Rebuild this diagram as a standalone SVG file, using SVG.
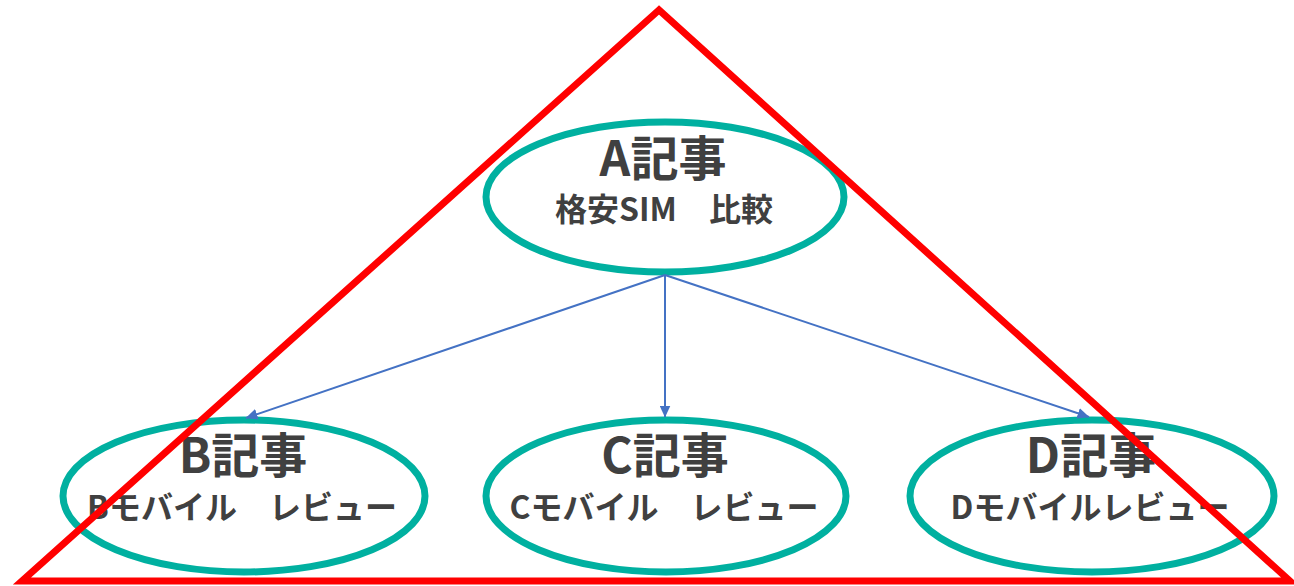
<svg xmlns="http://www.w3.org/2000/svg" width="1294" height="586" viewBox="0 0 1294 586">
<style>
.node ellipse{fill:#ffffff;stroke:#00B0A0;stroke-width:7}
.t1{font-family:"Noto Sans CJK JP","Noto Sans",sans-serif;font-weight:bold;font-size:48px;fill:#404040;text-anchor:middle}
.t2{font-family:"Noto Sans CJK JP","Noto Sans",sans-serif;font-weight:bold;font-size:32px;fill:#404040;text-anchor:middle}
.conn line{stroke:#4472C4;stroke-width:2;marker-end:url(#ah)}
</style>
<defs>
<marker id="ah" markerWidth="12" markerHeight="11" refX="11.5" refY="5.5" orient="auto" markerUnits="userSpaceOnUse" viewBox="0 0 12 11">
<path d="M0,0 L12,5.5 L0,11 Z" fill="#4472C4"/>
</marker>
</defs>
<rect width="1294" height="586" fill="#ffffff"/>
<g id="nodeA" class="node">
<ellipse cx="665" cy="197" rx="179" ry="75"/>
<text class="t1" x="663" y="176">A記事</text>
<text class="t2" x="664" y="221">格安SIM　比較</text>
</g>
<g id="nodeB" class="node">
<ellipse cx="244" cy="496" rx="181" ry="76"/>
<text class="t1" x="243" y="473">B記事</text>
<text class="t2" x="242" y="519">Bモバイル　レビュー</text>
</g>
<g id="nodeC" class="node">
<ellipse cx="666" cy="496" rx="180" ry="76"/>
<text class="t1" x="665" y="473">C記事</text>
<text class="t2" x="664" y="519">Cモバイル　レビュー</text>
</g>
<g id="nodeD" class="node">
<ellipse cx="1092" cy="496" rx="182" ry="76"/>
<text class="t1" x="1091" y="473">D記事</text>
<text class="t2" x="1090" y="519">Dモバイルレビュー</text>
</g>
<g id="connectors" class="conn">
<line x1="665" y1="275" x2="246" y2="418"/>
<line x1="665" y1="275" x2="665" y2="417"/>
<line x1="665" y1="275" x2="1089" y2="417"/>
</g>
<g id="triangle">
<polygon points="659,10 22,581 1290,581" fill="none" stroke="#FF0000" stroke-width="7" stroke-linejoin="miter"/>
</g>
</svg>
